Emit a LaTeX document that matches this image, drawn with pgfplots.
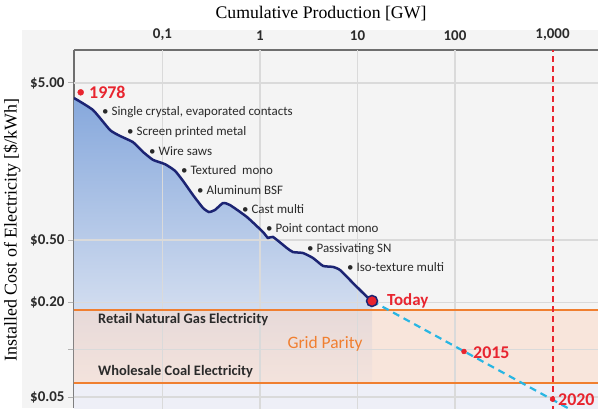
\documentclass[border=0pt]{standalone}
\usepackage{fontspec}
\setmainfont{Liberation Serif}
\newfontfamily\cf{Carlito}
\usepackage{pgfplots}
\usepackage{pgfplotstable}
\pgfplotsset{compat=1.18}
\definecolor{navyc}{HTML}{1C2473}
\definecolor{redc}{HTML}{E8252F}
\definecolor{orangec}{HTML}{F07F30}
\definecolor{cyanc}{HTML}{29B6E3}
\definecolor{gridc}{HTML}{DADADA}
\definecolor{bgc}{HTML}{F4F4F4}
\definecolor{lavc}{HTML}{EEEFF7}
\definecolor{peachc}{HTML}{FCD8C4}
\definecolor{blueT}{HTML}{86A8DC}
\definecolor{blueB}{HTML}{ECEFF6}
\definecolor{axisc}{HTML}{6E6E6E}
\definecolor{labc}{HTML}{2A2A2A}

\pgfplotstableread{
x y
0.01237 4.01
0.01937 3.365
0.02894 2.51
0.03664 2.30
0.04982 2.10
0.0631 1.82
0.0799 1.62
0.1061 1.52
0.1343 1.38
0.1623 1.19
0.2055 0.967
0.2602 0.80
0.2998 0.754
0.3455 0.777
0.4174 0.86
0.4924 0.835
0.7356 0.70
1.073 0.562
1.208 0.515
1.359 0.523
1.892 0.444
2.18 0.419
2.761 0.413
3.496 0.384
4.429 0.342
5.608 0.337
6.615 0.322
8.991 0.266
12.52 0.217
14.09 0.2045
}\curve

\pgfplotstableread{
x y
0.01237 4.01
0.01937 3.365
0.02894 2.51
0.03664 2.30
0.04982 2.10
0.0631 1.82
0.0799 1.62
0.1061 1.52
0.1343 1.38
0.1623 1.19
0.2055 0.967
0.2602 0.80
0.2998 0.754
0.3455 0.777
0.4174 0.86
0.4924 0.835
0.7356 0.70
1.073 0.562
1.208 0.515
1.359 0.523
1.892 0.444
2.18 0.419
2.761 0.413
3.496 0.384
4.429 0.342
5.608 0.337
6.615 0.322
8.991 0.266
12.52 0.217
14.09 0.2045
14.09 0.0614
0.01237 0.0614
}\curvefill

\newcommand{\annf}{\cf\fontsize{13}{15}\selectfont}
\newcommand{\redf}{\cf\bfseries\fontsize{18}{20}\selectfont}

\begin{document}
\begin{tikzpicture}[x=1bp,y=1bp]
\fill[bgc] (-52,0) rectangle (524,378);
\begin{axis}[
  scale only axis, width=524bp, height=358bp,
  xmode=log, ymode=log,
  xmin=0.01237, xmax=2928, ymin=0.04256, ymax=8.11,
  axis x line=top, axis y line=left,
  axis line style={draw=axisc, line width=2.5bp, -},
  xtick={0.1,1,10,100,1000},
  xticklabels={{0,1},1,10,100,{1,000}},
  ytick={5,0.5,0.2,0.1,0.05},
  yticklabels={\$5.00,\$0.50,\$0.20,,\$0.05},
  xminorticks=false, yminorticks=false,
  tick align=outside, major tick length=6bp,
  x tick style={draw=none},
  y tick style={draw=gray!60, line width=1bp},
  ticklabel style={font=\cf\bfseries\fontsize{15}{17}\selectfont, text=labc},
]
% lower band
\addplot[draw=none, fill=lavc] coordinates {(0.005,0.0614) (5000,0.0614) (5000,0.03) (0.005,0.03)};
% blue area under curve
\addplot[draw=none, top color=blueT, bottom color=blueB] table {\curvefill};
% grid parity band
\addplot[draw=none, fill=peachc, fill opacity=0.5] coordinates {(0.005,0.0614) (5000,0.0614) (5000,0.179) (0.005,0.179)};
% grid lines
\pgfplotsinvokeforeach{0.1,1,10,100}{\draw[gridc, line width=1.4bp] (axis cs:#1,0.03) -- (axis cs:#1,10);}
\pgfplotsinvokeforeach{5,0.5,0.2,0.1,0.05}{\draw[gridc, line width=1.4bp] (axis cs:0.005,#1) -- (axis cs:5000,#1);}
% orange lines
\addplot[orangec, line width=2.2bp] coordinates {(0.005,0.179) (5000,0.179)};
\addplot[orangec, line width=2.2bp] coordinates {(0.005,0.0614) (5000,0.0614)};
% red vertical dashed
\addplot[redc, line width=2bp, dash pattern=on 6bp off 4bp] coordinates {(1000,0.03) (1000,10)};
% cyan dashed projection
\addplot[cyanc, line width=2.2bp, dash pattern=on 7bp off 5bp] coordinates {(14.09,0.2045) (3000,0.0331)};
% curve
\addplot[navyc, line width=2.5bp, smooth, tension=0.3] table {\curve};
% dots
\addplot[only marks, mark=*, mark size=3bp, redc, mark options={draw=redc, fill=redc}] coordinates {(0.01449,4.36)};
\addplot[only marks, mark=*, mark size=2.5bp, redc, mark options={draw=redc, fill=redc}] coordinates {(123.7,0.0975) (1000,0.0485)};
\addplot[only marks, mark=*, mark size=5.5bp, mark options={draw=navyc, fill=redc, line width=1.5bp}] coordinates {(14.09,0.2045)};
\end{axis}
% titles
\node[font=\fontsize{17.8}{20}\selectfont] at (247,394) {Cumulative Production [GW]};
\node[rotate=90, font=\fontsize{18}{20}\selectfont] at (-62,178) {Installed Cost of Electricity [\$/kWh]};
% annotations
\begin{scope}[every node/.style={anchor=base west, inner sep=0pt, font=\annf, text=labc}]
\node at (28,293) {\textbullet\ Single crystal, evaporated contacts};
\node at (53,273) {\textbullet\ Screen printed metal};
\node at (75,253) {\textbullet\ Wire saws};
\node at (107,234) {\textbullet\ Textured\ \ mono};
\node at (123,214) {\textbullet\ Aluminum BSF};
\node at (168,195) {\textbullet\ Cast multi};
\node at (192,176) {\textbullet\ Point contact mono};
\node at (233,156) {\textbullet\ Passivating SN};
\node at (273,137) {\textbullet\ Iso-texture multi};
\end{scope}
\node[anchor=base west, inner sep=0pt, font=\cf\bfseries\fontsize{14.5}{16}\selectfont, text=labc] at (24,85) {Retail Natural Gas Electricity};
\node[anchor=base west, inner sep=0pt, font=\cf\bfseries\fontsize{14.5}{16}\selectfont, text=labc] at (24,33) {Wholesale Coal Electricity};
\node[anchor=base, inner sep=0pt, font=\cf\fontsize{17.5}{19}\selectfont, text=orangec] at (251,60) {Grid Parity};
\node[anchor=base west, inner sep=0pt, font=\redf, text=redc] at (15,310) {1978};
\node[anchor=base west, inner sep=0pt, font=\cf\bfseries\fontsize{17}{19}\selectfont, text=redc] at (313,103) {Today};
\node[anchor=base west, inner sep=0pt, font=\redf, text=redc] at (399,50) {2015};
\node[anchor=base west, inner sep=0pt, font=\redf, text=redc] at (484,3) {2020};
\pgfresetboundingbox
\path[use as bounding box] (-74,0) rectangle (524,408);
\end{tikzpicture}
\end{document}
